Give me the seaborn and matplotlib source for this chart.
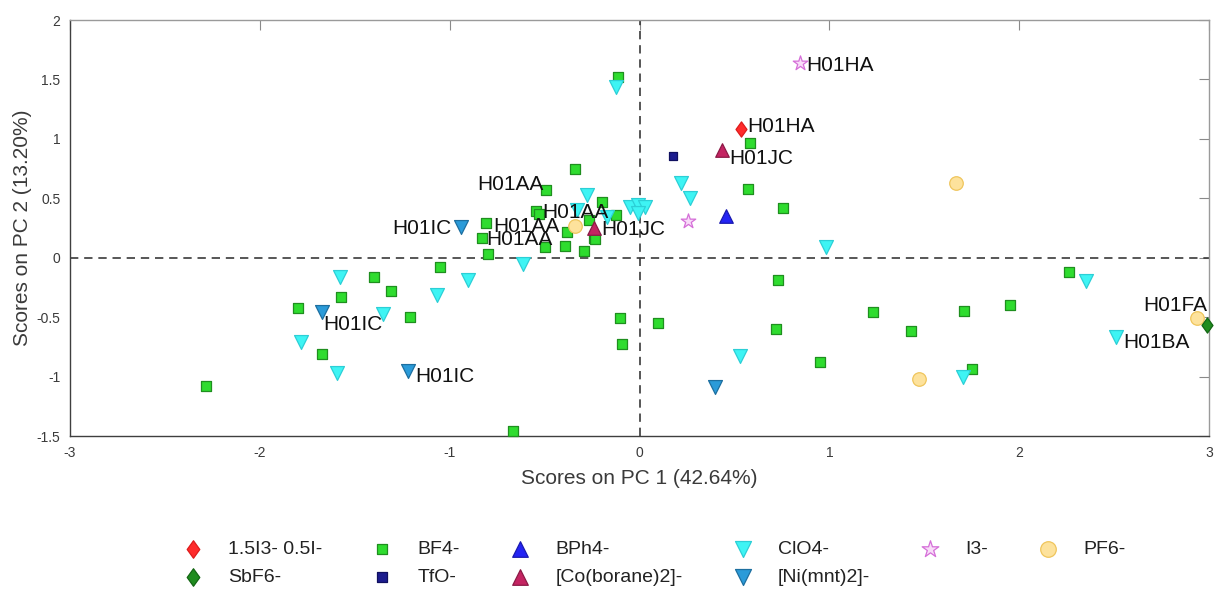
import numpy as np
import pandas as pd
import matplotlib
matplotlib.use("Agg")
import matplotlib.pyplot as plt
from matplotlib.path import Path
from matplotlib.ticker import FormatStrFormatter
import seaborn as sns

# ---- PCA scores per anion group (PC1, PC2) ----
i3_i_x = [0.536]
i3_i_y = [1.086]

bf4_x = [-0.115, -0.34, -0.49, -0.20, -0.545, -0.53, -0.125, -0.81, -0.83, -0.80,
         -0.50, -0.39, -0.38, -0.29, -0.265, -0.24, -0.235, 0.583, 0.571, 0.756,
         -1.05, -1.40, -1.31, -1.57, -1.80, -1.21, -1.675, -2.286, -0.665, 0.728,
         -0.103, 0.097, -0.09, 0.72, 0.95, 1.228, 1.43, 1.71, 1.95, 1.75, 2.26]
bf4_y = [1.52, 0.75, 0.57, 0.47, 0.39, 0.37, 0.36, 0.29, 0.17, 0.03,
         0.09, 0.10, 0.22, 0.06, 0.32, 0.17, 0.155, 0.965, 0.574, 0.42,
         -0.076, -0.166, -0.28, -0.33, -0.42, -0.50, -0.81, -1.08, -1.46, -0.19,
         -0.51, -0.546, -0.73, -0.60, -0.875, -0.456, -0.62, -0.447, -0.397, -0.94, -0.12]

bph4_x = [0.458]
bph4_y = [0.354]

clo4_x = [-0.125, -0.276, -0.33, -0.17, -0.05, -0.01, 0.03, -0.01, 0.219, 0.264,
          0.983, -0.614, -0.906, -1.066, -1.58, -1.35, -1.785, -1.596, 0.53, 1.706,
          2.35, 2.51]
clo4_y = [1.44, 0.53, 0.40, 0.34, 0.43, 0.44, 0.43, 0.38, 0.63, 0.50,
          0.093, -0.053, -0.19, -0.31, -0.16, -0.475, -0.706, -0.97, -0.83, -1.0,
          -0.2, -0.665]

i3_x = [0.845, 0.258]
i3_y = [1.64, 0.31]

pf6_x = [-0.34, 1.669, 1.47, 2.935]
pf6_y = [0.264, 0.627, -1.02, -0.51]

sbf6_x = [2.99]
sbf6_y = [-0.57]

tfo_x = [0.178]
tfo_y = [0.855]

coborane_x = [0.432, -0.24]
coborane_y = [0.903, 0.25]

nimnt_x = [-0.94, -1.675, -1.22, 0.396]
nimnt_y = [0.256, -0.46, -0.95, -1.09]

group_names = ["1.5I3- 0.5I-", "BF4-", "BPh4-", "ClO4-", "I3-", "PF6-",
               "SbF6-", "TfO-", "[Co(borane)2]-", "[Ni(mnt)2]-"]
group_x = [i3_i_x, bf4_x, bph4_x, clo4_x, i3_x, pf6_x, sbf6_x, tfo_x, coborane_x, nimnt_x]
group_y = [i3_i_y, bf4_y, bph4_y, clo4_y, i3_y, pf6_y, sbf6_y, tfo_y, coborane_y, nimnt_y]

# Sample-name annotations
label_text = ["H01HA", "H01HA", "H01JC", "H01AA", "H01AA", "H01AA", "H01AA",
              "H01JC", "H01IC", "H01IC", "H01IC", "H01FA", "H01BA"]
label_x = [0.88, 0.57, 0.474, -0.855, -0.51, -0.77, -0.805,
           -0.20, -1.30, -1.665, -1.18, 2.655, 2.55]
label_y = [1.62, 1.10, 0.835, 0.62, 0.38, 0.26, 0.15,
           0.235, 0.245, -0.565, -1.0, -0.40, -0.71]

x_label = "Scores on PC 1 (42.64%)"
y_label = "Scores on PC 2 (13.20%)"

frames = []
for name, xs, ys in zip(group_names, group_x, group_y):
    frames.append(pd.DataFrame({"pc1": xs, "pc2": ys, "anion": name}))
scores = pd.concat(frames, ignore_index=True)

# ---- styling ----
sns.set_style("white")
plt.rcParams["font.family"] = ["Liberation Sans", "DejaVu Sans"]
plt.rcParams["axes.unicode_minus"] = False

tall_diamond = Path([(0, 1), (0.72, 0), (0, -1), (-0.72, 0), (0, 1)],
                    [Path.MOVETO, Path.LINETO, Path.LINETO, Path.LINETO, Path.CLOSEPOLY])

styles = {
    "1.5I3- 0.5I-":   dict(marker=tall_diamond, s=120, color="#ff2b2b", edgecolor="#dd1c1c"),
    "BF4-":           dict(marker="s", s=46, color="#2fdc2f", edgecolor="#1f8f1f"),
    "BPh4-":          dict(marker="^", s=95, color="#2424f4", edgecolor="#1a1ab0"),
    "ClO4-":          dict(marker="v", s=100, color="#3ef4f4", edgecolor="#2ccfd6"),
    "I3-":            dict(marker="*", s=120, color="#f8dcf8", edgecolor="#d56ed8"),
    "PF6-":           dict(marker="o", s=95, color="#fde29c", edgecolor="#efc55c"),
    "SbF6-":          dict(marker=tall_diamond, s=120, color="#1f8c1f", edgecolor="#146614"),
    "TfO-":           dict(marker="s", s=36, color="#1c1c8e", edgecolor="#101060"),
    "[Co(borane)2]-": dict(marker="^", s=95, color="#c42462", edgecolor="#8c1a46"),
    "[Ni(mnt)2]-":    dict(marker="v", s=100, color="#2b9bd9", edgecolor="#1d6fa0"),
}

fig = plt.figure(figsize=(12.14, 5.90), dpi=100)
ax = fig.add_axes([70 / 1214, 1 - 436 / 590, (1209 - 70) / 1214, (436 - 20) / 590])

ax.axhline(0, color="#3a3a3a", lw=1.2, ls=(0, (5, 3.5)), zorder=1)
ax.axvline(0, color="#3a3a3a", lw=1.2, ls=(0, (5, 3.5)), zorder=1)

for i, name in enumerate(group_names):
    st = styles[name]
    sns.scatterplot(data=scores[scores["anion"] == name], x="pc1", y="pc2",
                    ax=ax, marker=st["marker"], s=st["s"], color=st["color"],
                    edgecolor=st["edgecolor"], linewidth=0.9, label=name,
                    zorder=3 + i, clip_on=False)

for t, tx, ty in zip(label_text, label_x, label_y):
    ax.text(tx, ty, t, ha="left", va="center", fontsize=15, color="#111111", zorder=20)

ax.set_xlim(-3, 3)
ax.set_ylim(-1.5, 2)
ax.set_xticks(np.arange(-3, 3.01, 1))
ax.set_yticks(np.arange(-1.5, 2.01, 0.5))
ax.xaxis.set_major_formatter(FormatStrFormatter("%g"))
ax.yaxis.set_major_formatter(FormatStrFormatter("%g"))
ax.tick_params(direction="in", length=7, width=0.8, color="#8a8a8a",
               labelsize=10, labelcolor="#3a3a3a", top=True, right=True, pad=7)

for side in ("left", "bottom"):
    ax.spines[side].set_color("#3f3f3f")
    ax.spines[side].set_linewidth(1.0)
for side in ("top", "right"):
    ax.spines[side].set_color("#9a9a9a")
    ax.spines[side].set_linewidth(1.0)

ax.set_xlabel(x_label, fontsize=15, color="#3a3a3a", labelpad=7)
ax.set_ylabel(y_label, fontsize=15, color="#3a3a3a", labelpad=3)

# Legend below the axes: six columns, column-major fill
handles, labels = ax.get_legend_handles_labels()
ax.get_legend().remove()
lookup = dict(zip(labels, handles))
order = ["1.5I3- 0.5I-", "SbF6-", "BF4-", "TfO-", "BPh4-", "[Co(borane)2]-",
         "ClO4-", "[Ni(mnt)2]-", "I3-", "PF6-"]
fig.legend([lookup[k] for k in order], order, loc="center",
           bbox_to_anchor=(0.535, 0.045), ncol=6, frameon=False, fontsize=14,
           handlelength=2.0, handletextpad=0.8, columnspacing=2.1,
           labelspacing=0.55, markerscale=1.15, labelcolor="#222222")

fig.savefig("out.png", dpi=100)
